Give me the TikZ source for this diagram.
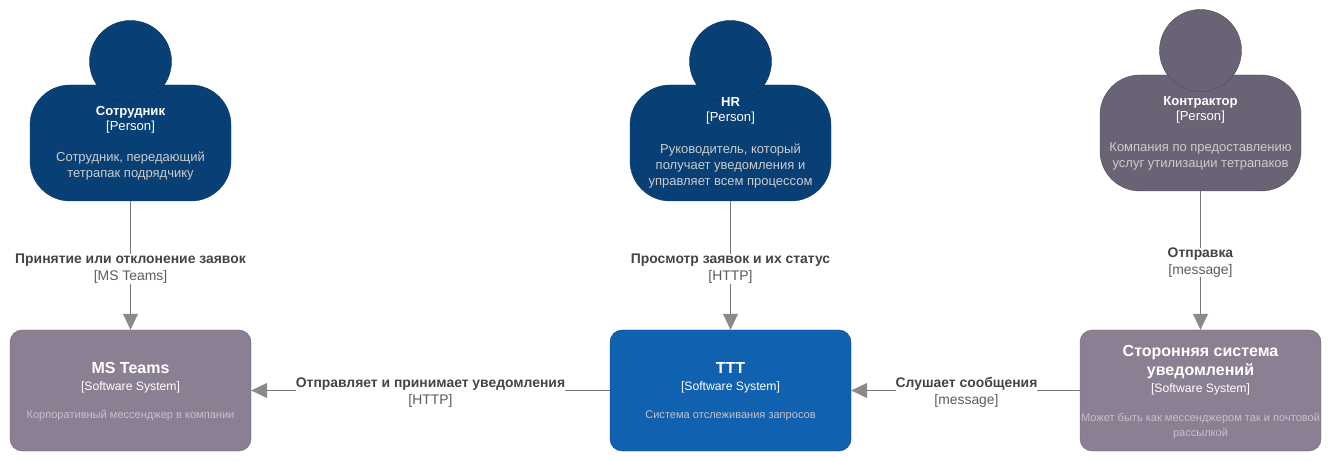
\documentclass[tikz,border=0pt]{standalone}
\usepackage{fontspec}
\setmainfont{Liberation Sans}
\usetikzlibrary{arrows.meta}
\definecolor{personblue}{HTML}{083F75}
\definecolor{personedge}{HTML}{06335F}
\definecolor{persongray}{HTML}{6A6375}
\definecolor{grayedge}{HTML}{4F4A58}
\definecolor{sysgray}{HTML}{8B8093}
\definecolor{sysgrayedge}{HTML}{6F667C}
\definecolor{sysblue}{HTML}{1061B0}
\definecolor{sysblueedge}{HTML}{0B4884}
\definecolor{linkgray}{HTML}{787878}
\definecolor{tipgray}{HTML}{8A8A8A}
\definecolor{labeltext}{HTML}{444444}
\definecolor{tagtext}{HTML}{5C5C5C}
\definecolor{desctext}{HTML}{CCCCCC}
\definecolor{sysdesctext}{HTML}{C4C0C8}
\tikzset{
  x=1pt,y=-1pt,
  personbody/.style={rectangle,rounded corners=40pt,minimum width=201pt,minimum height=116pt,inner sep=0pt,draw=#1},
  head/.style={circle,minimum size=82pt,inner sep=0pt},
  sysbox/.style={rectangle,rounded corners=12pt,minimum width=241pt,minimum height=121pt,inner sep=0pt},
  txt/.style={inner sep=0pt,align=center,text=white},
  ptext/.style={txt,font=\fontsize{13.1}{15.4}\selectfont},
  pdesc/.style={txt,text=desctext,font=\fontsize{13}{16}\selectfont},
  systitle/.style={txt,font=\fontsize{16}{19.5}\selectfont\bfseries},
  systag/.style={txt,font=\fontsize{12.2}{14}\selectfont},
  sysdesc/.style={txt,text=sysdesctext,font=\fontsize{11.05}{15}\selectfont},
  link/.style={draw=linkgray,line width=0.8pt,-{Triangle[length=16pt,width=15pt,color=tipgray]}},
  linklabel/.style={inner sep=0pt,fill=white,align=center,text=tagtext,font=\fontsize{13.9}{16.8}\selectfont},
}
\newcommand{\linkname}[1]{\textcolor{labeltext}{\textbf{#1}}}
\begin{document}
\begin{tikzpicture}
\useasboundingbox (0,0) rectangle (1331,462);
% persons
\node[personbody=personblue,fill=personblue] (p1) at (130.5,143) {};
\node[head,fill=personblue,draw=personedge] (h1) at (130.5,61.5) {};
\node[personbody=personblue,fill=personblue] (p2) at (730.5,143) {};
\node[head,fill=personblue,draw=personedge] (h2) at (730.5,61.5) {};
\node[personbody=grayedge,fill=persongray] (p3) at (1200.5,133) {};
\node[head,fill=persongray,draw=grayedge] (h3) at (1200.5,50.5) {};
% systems
\node[sysbox,fill=sysgray,draw=sysgrayedge] (s1) at (130.5,390.5) {};
\node[sysbox,fill=sysblue,draw=sysblueedge] (s2) at (730.5,390.5) {};
\node[sysbox,fill=sysgray,draw=sysgrayedge] (s3) at (1200.5,390.5) {};
% person texts
\node[ptext] (t1) at (130.5,119.5) {\textbf{Сотрудник}\\{}[Person]};
\node[pdesc] (d1) at (130.5,166) {Сотрудник, передающий\\тетрапак подрядчику};
\node[ptext] (t2) at (730.5,111) {\textbf{HR}\\{}[Person]};
\node[pdesc] (d2) at (730.5,166.5) {Руководитель, который\\получает уведомления и\\управляет всем процессом};
\node[ptext] (t3) at (1200.5,110) {\textbf{Контрактор}\\{}[Person]};
\node[pdesc] (d3) at (1200.5,156) {Компания по предоставлению\\услуг утилизации тетрапаков};
% system texts
\node[systitle] (st1) at (130.5,368) {MS Teams};
\node[systag] (sg1) at (130.5,387) {[Software System]};
\node[sysdesc] (sd1) at (130.5,416) {Корпоративный мессенджер в компании};
\node[systitle] (st2) at (730.5,368) {TTT};
\node[systag] (sg2) at (730.5,387) {[Software System]};
\node[sysdesc] (sd2) at (730.5,416) {Система отслеживания запросов};
\node[systitle] (st3) at (1200.5,362) {Сторонняя система\\уведомлений};
\node[systag] (sg3) at (1200.5,389.5) {[Software System]};
\node[sysdesc] (sd3) at (1200.5,426.5) {Может быть как мессенджером так и почтовой\\рассылкой};
% connectors
\draw[link] (p1) -- (s1);
\draw[link] (p2) -- (s2);
\draw[link] (p3) -- (s3);
\draw[link] (s2) -- (s1);
\draw[link] (s3) -- (s2);
% labels
\node[linklabel] (l1) at (130.5,269) {\linkname{Принятие или отклонение заявок}\\{}[MS Teams]};
\node[linklabel] (l2) at (730.5,269) {\linkname{Просмотр заявок и их статус}\\{}[HTTP]};
\node[linklabel] (l3) at (1200.5,262.5) {\linkname{Отправка}\\{}[message]};
\node[linklabel] (l4) at (430.5,392.5) {\linkname{Отправляет и принимает уведомления}\\{}[HTTP]};
\node[linklabel] (l5) at (966.5,392.5) {\linkname{Слушает сообщения}\\{}[message]};
\end{tikzpicture}
\end{document}
